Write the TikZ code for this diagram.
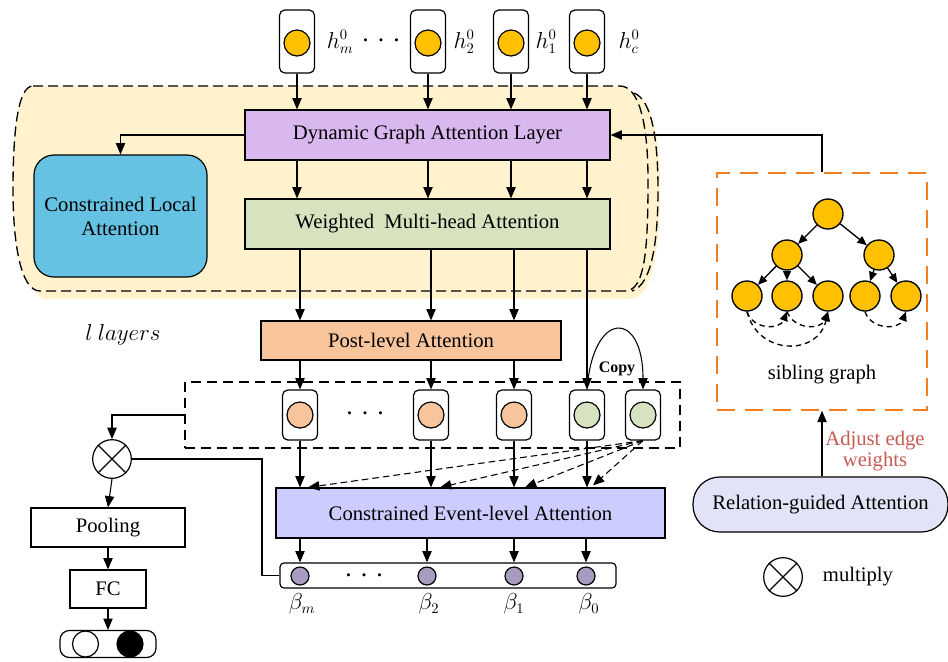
\documentclass[tikz,border=0pt]{standalone}
\usepackage{fontspec}
\setmainfont{Liberation Serif}
\usetikzlibrary{arrows.meta,calc}
\definecolor{yellowbg}{HTML}{FFF2CC}
\definecolor{dgalc}{HTML}{D9B7EF}
\definecolor{wmac}{HTML}{D7E3BF}
\definecolor{clac}{HTML}{66C2E2}
\definecolor{plac}{HTML}{F8C49B}
\definecolor{ceac}{HTML}{CCCCFF}
\definecolor{rgac}{HTML}{E3E3F8}
\definecolor{gold}{HTML}{FFC000}
\definecolor{betac}{HTML}{A79BC0}
\definecolor{greenc}{HTML}{D6E2C0}
\definecolor{redtxt}{HTML}{C55A51}
\definecolor{orangec}{HTML}{F07F22}
\newcommand{\tdots}{{\fontsize{9.5}{10}\selectfont\textbullet\hspace{8.3pt}\textbullet\hspace{8.3pt}\textbullet}}
\begin{document}
\begin{tikzpicture}[x=0.75pt,y=-0.75pt,
  txt/.style={font=\fontsize{15.5}{18}\selectfont, align=center},
  lbl/.style={font=\fontsize{16}{18}\selectfont, inner sep=0pt},
  box/.style={draw, line width=0.9pt, txt, inner sep=0pt},
  hbox/.style={draw, line width=0.9pt, rounded corners=4pt, minimum width=26.25pt, inner sep=0pt},
  dotn/.style={circle, draw, line width=0.9pt, inner sep=0pt, minimum size=19.5pt},
  arr/.style={-{Triangle[length=8.5pt,width=7pt]}, line width=0.8pt},
  darr/.style={arr, dash pattern=on 5pt off 3pt},
  tarr/.style={-{Triangle[length=7pt,width=6pt]}, line width=1pt},
  tdarr/.style={tarr, dash pattern=on 4pt off 3pt},
  ydash/.style={line width=1pt, dash pattern=on 7.5pt off 3.75pt},
  mult/.style={circle, draw, line width=0.9pt, minimum size=29pt, inner sep=0pt},
  tn/.style={circle, draw, line width=1pt, fill=gold, minimum size=22.5pt, inner sep=0pt}
]
\useasboundingbox (0,0) rectangle (948,661);

% ---------- layered yellow background ----------
\path[fill=yellowbg] (45,93) -- (630,93) .. controls (650,93) and (660,130) .. (660,190)
  .. controls (660,250) and (652,299) .. (630,299) -- (45,299)
  .. controls (30,299) and (22,250) .. (22,190) .. controls (22,130) and (30,93) .. (45,93);
\path[fill=yellowbg, draw, ydash] (33,86) -- (620,86) .. controls (638,86) and (648,120) .. (648,180)
  .. controls (648,250) and (645,291) .. (625,291) -- (40,291)
  .. controls (20,291) and (13,240) .. (13,190) .. controls (13,130) and (18,86) .. (33,86);
\draw[ydash] (634,93) .. controls (652,100) and (658,140) .. (658,190)
  .. controls (658,240) and (652,285) .. (632,291);

% ---------- top inputs ----------
\foreach \n/\x in {hm/297, h2/428, h1/511, hc/587}{
  \node[hbox, minimum height=47.25pt] (\n) at (\x,41.5) {};
  \node[dotn, fill=gold] (\n c) at (\x,43) {};
}
\node[lbl] (lhm) at (340,42) {$h_m^0$};
\node (hdots) at (381,42) {\tdots};
\node[lbl] (lh2) at (464,42) {$h_2^0$};
\node[lbl] (lh1) at (546,42) {$h_1^0$};
\node[lbl] (lhc) at (629,42) {$h_c^0$};

% ---------- main boxes ----------
\node[box, fill=dgalc, minimum width=273.75pt, minimum height=37.5pt] (dgal) at (427.5,135) {Dynamic Graph Attention Layer};
\node[box, fill=wmac, minimum width=273.75pt, minimum height=37.5pt] (wma) at (427.5,224) {Weighted\ \ Multi-head Attention};
\node[box, fill=clac, rounded corners=15pt, minimum width=129.75pt, minimum height=91.5pt] (cla) at (120.5,216) {Constrained Local\\Attention};
\node[lbl] (lay) at (123,335) {$l\ layers$};
\node[box, fill=plac, minimum width=225pt, minimum height=29.25pt] (pla) at (411,340.5) {Post-level Attention};

\node[draw, line width=1pt, dash pattern=on 7.5pt off 4.5pt, minimum width=371.25pt, minimum height=49.5pt] (row) at (432.5,415) {};
\foreach \n/\x/\c in {n1/300/plac, n2/431/plac, n3/514/plac, n4/587/greenc, n5/643/greenc}{
  \node[hbox, fill=white, minimum height=37.5pt] (\n) at (\x,415) {};
  \node[dotn, fill=\c] (\n c) at (\x,415) {};
}
\node (rdots) at (365,415) {\tdots};
\node[font=\fontsize{12}{14}\selectfont\bfseries, inner sep=0pt] (copy) at (617,369) {Copy};

\node[box, fill=ceac, minimum width=291.75pt, minimum height=37.5pt] (cea) at (470.5,513) {Constrained Event-level Attention};
\node[draw, line width=0.9pt, rounded corners=3pt, minimum width=252pt, minimum height=18.75pt, inner sep=0pt] (bar) at (448,575.5) {};
\foreach \n/\x in {b1/300, b2/427, b3/514, b4/586}{
  \node[circle, draw, line width=0.9pt, fill=betac, minimum size=13.5pt, inner sep=0pt] (\n) at (\x,576) {};
}
\node (bdots) at (364,577) {\tdots};
\node[lbl] (lb1) at (302,604) {$\beta_m$};
\node[lbl] (lb2) at (429,604) {$\beta_2$};
\node[lbl] (lb3) at (514,604) {$\beta_1$};
\node[lbl] (lb4) at (589,604) {$\beta_0$};

% ---------- left output branch ----------
\node[mult] (mul) at (112,459) {};
\draw[line width=0.9pt] (mul.north east) -- (mul.south west) (mul.north west) -- (mul.south east);
\node[box, minimum width=115.5pt, minimum height=29.25pt] (pool) at (108,527.5) {Pooling};
\node[box, minimum width=57pt, minimum height=28.5pt] (fc) at (108,589) {FC};
\node[draw, line width=0.9pt, rounded corners=7pt, minimum width=72pt, minimum height=20.25pt, inner sep=0pt] (out) at (108,644) {};
\node[dotn, fill=white] (o1) at (85.5,644) {};
\node[dotn, fill=black] (o2) at (130,644) {};
\coordinate (corner) at (262,575.5);

% ---------- sibling graph ----------
\node[draw=orangec, line width=1.2pt, dash pattern=on 13.5pt off 7.5pt, minimum width=157.5pt, minimum height=177.75pt] (sib) at (822,291.5) {};
\node[tn] (t0) at (828,214) {};
\node[tn] (t1) at (787,255) {};
\node[tn] (t2) at (879,255) {};
\node[tn] (t3) at (747,296) {};
\node[tn] (t4) at (787,296) {};
\node[tn] (t5) at (828,296) {};
\node[tn] (t6) at (865,296) {};
\node[tn] (t7) at (906,296) {};
\node[txt] (sibl) at (822,375) {sibling graph};
\node[box, fill=rgac, rounded corners=20pt, minimum width=191.25pt, minimum height=41.25pt] (rga) at (820.5,504.5) {Relation-guided Attention};
\node[txt, text=redtxt, font=\fontsize{15.5}{13}\selectfont] (adj) at (875,451) {Adjust edge\\weights};
\node[mult] (leg) at (783,577) {};
\draw[line width=0.9pt] (leg.north east) -- (leg.south west) (leg.north west) -- (leg.south east);
\node[txt] (legt) at (858,577) {multiply};

% ---------- connectors ----------
\foreach \n in {hm,h2,h1,hc}{
  \draw[arr] (\n.south) -- (\n.south |- dgal.north);
  \draw[arr] (dgal.south -| \n) -- (wma.north -| \n);
}
\draw[arr] (dgal.west) -| (cla.north);
\foreach \n in {n1,n2,n3}{
  \draw[arr] (wma.south -| \n) -- (pla.north -| \n);
  \draw[arr] (pla.south -| \n) -- (\n.north);
}
\draw[arr] (wma.south -| n4) -- (n4.north);
\draw[arr] (n4.north) .. controls +(6,-80) and +(0,-80) .. (n5.north);
\foreach \n in {n1,n2,n3,n4}{
  \draw[arr] (\n.south) -- (cea.north -| \n);
}
\draw[darr] (n5.south) -- ($(cea.north -| n1)+(8,0)$);
\draw[darr] (n5.south) -- ($(cea.north -| n2)+(9,0)$);
\draw[darr] (n5.south) -- ($(cea.north -| n3)+(11,0)$);
\draw[darr] (n5.south) -- ($(cea.north -| n4)+(6,-2)$);
\foreach \n in {b1,b2,b3,b4}{
  \draw[arr] (cea.south -| \n) -- (bar.north -| \n);
}
\draw[arr] (row.west) -| (mul.north);
\draw[line width=0.8pt] (mul.east) -| (corner) -- (bar.west);
\draw[arr] (mul.south) -- (pool.north);
\draw[arr] (pool.south) -- (fc.north);
\draw[arr] (fc.south) -- (out.north);
\draw[arr] (sib.north) |- (dgal.east);
\draw[arr] (sib.south |- rga.north) -- (sib.south);

\draw[tarr] (t0) -- (t1);
\draw[tarr] (t0) -- (t2);
\draw[tarr] (t1) -- (t3);
\draw[tarr] (t1) -- (t4);
\draw[tarr] (t1) -- (t5);
\draw[tarr] (t2) -- (t6);
\draw[tarr] (t2) -- (t7);
\draw[tdarr] (t3.south) .. controls (753,330) and (780,330) .. (t4.south);
\draw[tdarr] (t4.south) .. controls (794,330) and (821,330) .. (t5.south);
\draw[tdarr] (t3.south) .. controls (758,356) and (818,356) .. (t5.south);
\draw[tdarr] (t6.south) .. controls (871,330) and (899,330) .. (t7.south);
\end{tikzpicture}
\end{document}
